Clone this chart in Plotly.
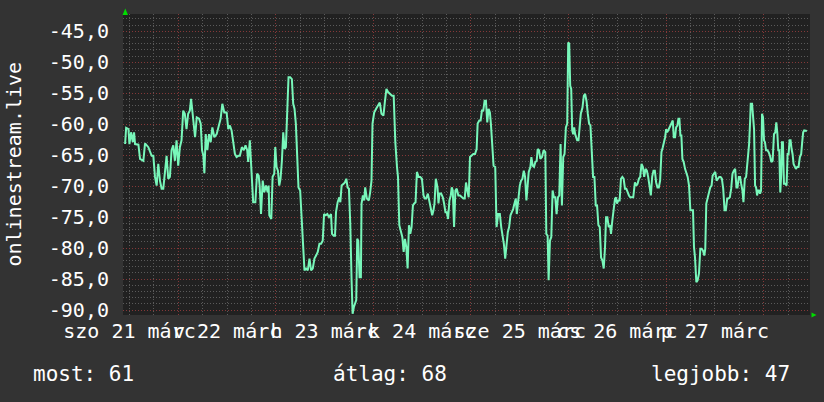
import plotly.graph_objects as go

# ---------------- data (hours since Sat 21 Mar 00:00, signal level) ----------------
hours = [
    -1.08, -0.83, -0.26, -0.02, 0.39, 0.80, 1.12, 1.37, 2.19, 2.59,
    3.41, 3.82, 4.63, 5.45, 5.86, 6.27, 6.68, 7.08, 7.49, 7.90,
    8.31, 8.72, 9.12, 9.53, 9.94, 10.35, 10.76, 11.17, 11.57, 11.98,
    12.39, 12.80, 13.21, 13.61, 14.02, 14.43, 14.84, 15.15, 15.56, 16.13,
    16.54, 17.11, 17.52, 17.85, 18.17, 18.42, 18.75, 19.15, 19.56, 19.97,
    20.38, 20.87, 21.44, 22.01, 22.42, 22.83, 23.32, 23.89, 24.30, 24.70,
    25.11, 25.52, 25.93, 26.34, 26.75, 27.15, 27.64, 28.13, 28.54, 28.95,
    29.19, 29.60, 30.01, 30.42,
    30.96, 31.37, 31.78, 32.02, 32.35, 32.76, 33.16, 33.57, 33.98, 34.23,
    34.39, 34.88, 35.20, 35.61, 35.86, 36.18, 36.51, 36.84, 37.16, 37.49,
    37.82, 38.14, 38.47, 38.80, 39.12, 39.53, 39.94, 40.27, 40.59, 40.92,
    41.25, 41.57, 41.98, 42.39, 42.72, 43.04, 43.45, 43.86, 44.27, 44.67,
    45.08, 45.49, 45.90, 46.31, 46.72, 47.12, 47.53, 47.86, 48.27, 48.67,
    49.08, 49.57, 49.82, 50.23, 50.55, 50.80, 51.20, 51.61, 51.86, 52.18,
    52.67, 53.00, 53.33, 53.65, 53.98, 54.31, 54.63, 54.88, 55.20, 55.45,
    55.78, 56.02, 56.27, 56.59, 56.92, 57.08, 57.41, 57.74, 57.98, 58.39,
    58.88, 59.20, 59.53, 59.78, 60.19, 60.67, 61.16, 61.57, 61.98, 62.47,
    62.80, 63.20, 63.61,
    64.17, 64.58, 64.99, 65.39, 65.80, 66.05, 66.37, 66.78, 67.11, 67.44,
    67.76, 68.09, 68.41, 68.74, 69.07, 69.39, 69.72, 70.05, 70.37, 70.70,
    71.11, 71.52, 71.93, 72.33, 72.66, 72.99, 73.39, 73.72, 74.13, 74.46,
    74.78, 75.03, 75.35, 75.76, 76.01, 76.25, 76.66, 77.07, 77.39, 77.72,
    78.05, 78.37, 78.70, 79.03, 79.27, 79.52, 79.84, 80.17, 80.50, 80.90,
    81.31, 81.72, 82.13, 82.46, 82.78, 83.11, 83.44, 83.76, 84.17, 84.58,
    84.99, 85.39, 85.64, 86.05, 86.37, 86.70, 87.03, 87.35, 87.68, 88.01,
    88.33, 88.66, 88.90, 89.23, 89.56, 89.97, 90.29, 90.70, 91.11, 91.44,
    91.76, 92.09, 92.42, 92.74, 93.07, 93.39, 93.72, 94.05, 94.37, 94.70,
    95.03, 95.27, 95.60, 96.01, 96.33, 96.66, 96.99, 97.31, 97.64,
    98.21, 98.61, 98.86, 99.19, 99.51, 99.84, 100.17, 100.41, 100.74, 101.06,
    101.47, 101.88, 102.29, 102.53, 102.86, 103.10, 103.43, 103.76, 104.08, 104.41,
    104.74, 105.06, 105.39, 105.72, 106.04, 106.37, 106.70, 107.02, 107.35, 107.68,
    107.92, 108.17, 108.41, 108.66, 108.90, 109.15, 109.39, 109.63, 109.88, 110.12,
    110.45, 110.70, 111.02, 111.43, 111.76, 112.08, 112.41, 112.74, 113.06, 113.39,
    113.72, 114.04, 114.37, 114.70, 115.02, 115.35, 115.68, 116.00, 116.33, 116.66,
    116.98, 117.23, 117.55, 117.88, 118.21, 118.45, 118.78, 119.10, 119.43, 119.68,
    119.92, 120.25, 120.57, 120.90, 121.23, 121.55, 121.88, 122.21, 122.53, 122.86,
    123.19, 123.51, 123.92, 124.33, 124.66, 124.98, 125.31, 125.63, 125.96, 126.29,
    126.61, 126.94, 127.27, 127.59, 127.92, 128.25, 128.57, 128.90, 129.23, 129.55,
    129.88, 130.21, 130.53, 130.86, 131.19,
    131.76, 132.01, 132.25, 132.50, 132.82, 133.07, 133.40, 133.64, 133.89, 134.21,
    134.46, 134.78, 135.03, 135.27, 135.52, 135.76, 136.01, 136.33, 136.66, 136.99,
    137.31, 137.64, 137.97, 138.29, 138.62, 138.86, 139.11, 139.44, 139.76, 140.09,
    140.42, 140.74, 141.07, 141.40, 141.64, 141.89, 142.21, 142.54, 142.86, 143.19,
    143.44, 143.76, 144.09, 144.42, 144.74, 145.07, 145.40, 145.72, 146.05, 146.38,
    146.70, 147.03, 147.35, 147.68, 148.01, 148.33, 148.66, 148.99, 149.31, 149.56,
    149.89, 150.21, 150.46, 150.78, 151.03, 151.36, 151.68, 151.93, 152.17, 152.42,
    152.66, 152.82, 153.15, 153.40, 153.64, 153.89, 154.13, 154.38, 154.62, 154.87,
    155.11, 155.36, 155.60, 155.84, 156.09, 156.33, 156.58, 156.91, 157.23, 157.56,
    157.89, 158.21, 158.54, 158.86, 159.11, 159.35, 159.60, 159.84, 160.09, 160.33,
    160.50, 160.74, 160.99, 161.31, 161.64, 161.89, 162.13, 162.38, 162.62, 162.87,
    163.11, 163.36, 163.60, 163.93, 164.25, 164.58, 164.91, 165.23, 165.48, 165.72,
    165.97, 166.29, 166.62,
]

signal = [
    -63.2, -60.6, -60.8, -63.2, -61.3, -62.9, -61.3, -63.2, -63.3, -65.6,
    -65.9, -63.1, -63.7, -65.1, -65.1, -68.5, -69.9, -66.4, -69.1, -70.4,
    -70.4, -67.5, -65.1, -68.8, -68.5, -64.2, -63.4, -65.9, -62.6, -66.7,
    -63.7, -62.6, -57.8, -58.3, -60.8, -58.3, -57.8, -55.9, -58.3, -62.1,
    -58.9, -59.1, -59.9, -64.2, -65.1, -67.9, -61.6, -64.2, -61.6, -62.9,
    -60.5, -62.1, -61.6, -59.9, -59.1, -56.7, -58.1, -58.1, -60.8, -60.2,
    -61.0, -62.9, -64.8, -65.3, -65.1, -65.1, -63.7, -64.2, -63.4, -64.2,
    -66.1, -62.6, -66.7, -72.6,
    -72.6, -68.0, -68.3, -69.9, -74.5, -69.1, -71.0, -69.9, -71.0, -69.9,
    -74.7, -75.3, -68.5, -68.0, -63.7, -66.9, -67.5, -69.9, -68.8, -65.9,
    -61.3, -64.0, -63.7, -58.6, -52.4, -52.4, -52.7, -56.7, -57.5, -59.9,
    -65.9, -70.2, -70.7, -75.5, -80.4, -83.6, -83.3, -83.6, -81.7, -83.6,
    -83.3, -81.7, -81.2, -80.6, -79.3, -79.3, -78.8, -74.5, -74.7, -74.5,
    -75.0, -74.5, -77.7, -78.0, -78.0, -74.2, -72.6, -71.8, -72.6, -69.9,
    -69.6, -69.4, -68.8, -70.2, -70.4, -76.1, -85.2, -90.6, -89.5, -89.0,
    -88.4, -78.5, -78.8, -84.7, -84.7, -72.8, -71.5, -72.3, -70.2, -72.0,
    -72.3, -71.0, -69.1, -59.9, -58.1, -57.5, -57.0, -56.5, -58.3, -58.6,
    -56.5, -54.3, -54.8,
    -55.1, -55.4, -55.4, -62.9, -66.9, -68.5, -76.3, -77.7, -78.2, -80.6,
    -78.5, -79.8, -83.3, -76.3, -77.7, -76.6, -73.1, -72.8, -72.6, -67.7,
    -68.5, -68.5, -68.8, -71.5, -72.0, -72.0, -71.2, -72.3, -73.9, -74.7,
    -73.9, -72.8, -68.8, -70.2, -72.8, -71.2, -71.2, -71.8, -72.8, -74.2,
    -74.2, -75.3, -72.3, -71.5, -70.2, -70.7, -76.6, -70.7, -70.4, -71.5,
    -71.5, -71.8, -72.0, -72.0, -69.4, -70.7, -71.8, -65.3, -65.1, -64.8,
    -64.8, -64.0, -59.9, -59.4, -59.4, -57.8, -57.8, -56.2, -56.2, -59.7,
    -57.5, -58.1, -59.9, -64.0, -66.7, -66.9, -76.6, -74.5, -74.5, -76.6,
    -78.0, -79.3, -81.7, -79.5, -77.4, -76.6, -74.7, -74.2, -73.7, -72.8,
    -72.0, -74.5, -71.8, -69.9, -69.1, -68.8, -67.5, -68.5, -72.3,
    -67.7, -66.9, -65.3, -66.7, -66.9, -66.1, -65.9, -64.0, -64.2, -65.6,
    -65.3, -64.2, -64.5, -77.7, -78.0, -85.2, -78.8, -78.2, -70.7, -71.8,
    -71.8, -74.5, -71.8, -71.5, -63.2, -73.1, -65.3, -64.8, -60.5, -59.9,
    -46.8, -47.0, -53.8, -54.3, -61.0, -61.6, -60.5, -61.6, -62.1, -62.6,
    -62.6, -60.5, -58.3, -57.3, -55.4, -55.1, -56.2, -58.3, -59.9, -60.2,
    -64.0, -68.5, -68.5, -73.1, -73.1, -76.3, -76.6, -81.5, -82.0, -83.3,
    -79.8, -75.0, -75.0, -76.6, -76.3, -77.7, -75.5, -73.9, -72.0, -71.8,
    -72.8, -72.3, -72.3, -68.8, -68.5, -68.8, -70.4, -70.4, -71.0, -71.5,
    -71.8, -71.8, -71.8, -69.4, -69.9, -69.6, -68.8, -68.5, -66.4, -66.9,
    -68.5, -67.2, -67.5, -68.5, -69.9, -71.5, -68.5, -67.5, -67.5, -69.4,
    -70.2, -70.2, -69.1, -64.5, -63.7,
    -62.1, -60.8, -61.3, -61.0, -60.5, -60.2, -59.7, -59.4, -62.1, -62.1,
    -60.5, -60.2, -59.1, -59.1, -61.8, -61.8, -65.6, -66.1, -67.2, -68.0,
    -68.5, -69.9, -73.9, -73.9, -73.9, -79.8, -81.5, -85.5, -85.2, -84.1,
    -80.1, -80.1, -80.4, -81.2, -80.1, -72.8, -72.0, -71.2, -70.2, -69.9,
    -68.3, -68.0, -67.7, -69.1, -68.8, -68.5, -68.5, -68.8, -70.4, -73.9,
    -73.9, -72.0, -72.0, -71.8, -70.4, -68.0, -67.5, -67.2, -70.2, -70.2,
    -68.5, -68.5, -69.6, -70.7, -72.6, -68.8, -68.5, -66.7, -65.3, -63.2,
    -59.7, -56.7, -56.7, -59.9, -60.8, -69.9, -70.2, -71.5, -70.7, -70.7,
    -71.2, -70.7, -58.3, -58.9, -62.6, -62.9, -64.2, -64.2, -64.5, -65.1,
    -66.1, -65.9, -61.6, -61.3, -59.7, -61.3, -64.2, -64.2, -71.0, -68.0,
    -62.9, -62.9, -69.6, -69.6, -69.9, -64.8, -64.8, -62.6, -62.6, -64.0,
    -64.8, -66.4, -66.9, -67.2, -66.9, -66.9, -65.3, -64.8, -62.9, -61.3,
    -61.0, -61.0, -61.1,
]

assert len(hours) == len(signal), (len(hours), len(signal))

day_label_hours = [0, 24, 48, 72, 96, 120, 144]
day_labels = ["szo 21 márc", "v 22 márc", "h 23 márc", "k 24 márc",
              "sze 25 márc", "cs 26 márc", "p 27 márc"]
major_grid_hours = [12, 36, 60, 84, 108, 132, 156]

y_tick_vals = [-90, -85, -80, -75, -70, -65, -60, -55, -50, -45]
y_tick_text = ["-90,0", "-85,0", "-80,0", "-75,0", "-70,0", "-65,0",
               "-60,0", "-55,0", "-50,0", "-45,0"]

y_title = "onlinestream.live"
legend_items = ["most: 61", "átlag: 68", "legjobb: 47"]

# ---------------- styling ----------------
FONT = "DejaVu Sans Mono"
BG = "#333333"
PLOT_BG = "#212121"
LINE = "#78f7ba"
MINOR_GRID = "#5a5a5a"
MAJOR_GRID = "#843838"
DOT = "1px,2px"
X_RANGE = [-1.6, 167.4]
Y_RANGE = [-90.8, -42.2]

fig = go.Figure()
fig.add_trace(go.Scatter(
    x=hours, y=signal, mode="lines",
    line=dict(color=LINE, width=2),
    hoverinfo="skip", showlegend=False,
))
# carrier trace for the day-label axis
fig.add_trace(go.Scatter(
    x=day_label_hours, y=[None] * len(day_label_hours), xaxis="x2",
    mode="lines", hoverinfo="skip", showlegend=False,
))

fig.update_layout(
    width=824, height=402,
    margin=dict(l=123, r=14, t=14, b=87, pad=0),
    paper_bgcolor=BG, plot_bgcolor=PLOT_BG,
    font=dict(family=FONT, size=20, color="#ffffff"),
    showlegend=False,
    xaxis=dict(
        range=X_RANGE, tickmode="array", tickvals=major_grid_hours,
        showticklabels=False, ticks="",
        showgrid=True, gridcolor=MAJOR_GRID, griddash=DOT, gridwidth=1,
        zeroline=False, showline=False,
        minor=dict(tick0=0, dtick=6, showgrid=True, gridcolor=MINOR_GRID,
                   griddash=DOT, gridwidth=1, ticks=""),
    ),
    xaxis2=dict(
        range=X_RANGE, overlaying="x", side="bottom", anchor="y",
        tickmode="array", tickvals=day_label_hours, ticktext=day_labels,
        tickangle=0, ticks="", showgrid=False, zeroline=False, showline=False,
        tickfont=dict(family=FONT, size=20, color="#ffffff"),
        ticklabelstandoff=2,
    ),
    yaxis=dict(
        range=Y_RANGE, tickmode="array", tickvals=y_tick_vals, ticktext=y_tick_text,
        ticks="", showgrid=True, gridcolor=MAJOR_GRID, griddash=DOT, gridwidth=1,
        zeroline=False, showline=False,
        tickfont=dict(family=FONT, size=20, color="#ffffff"),
        ticklabelstandoff=13,
        minor=dict(tick0=0, dtick=1, showgrid=True, gridcolor=MINOR_GRID,
                   griddash=DOT, gridwidth=1, ticks=""),
    ),
)

fig.add_annotation(
    text=y_title, textangle=-90, xref="paper", yref="paper",
    x=-0.160, y=0.5, xanchor="center", yanchor="middle", showarrow=False,
    font=dict(family=FONT, size=20, color="#ffffff"),
)

legend_pos = [(-0.1341, "left"), (0.3892, "center"), (0.9738, "right")]
for text, (lx, anchor) in zip(legend_items, legend_pos):
    fig.add_annotation(
        text=text, xref="paper", yref="paper", x=lx, y=-0.196,
        xanchor=anchor, yanchor="middle", showarrow=False,
        font=dict(family=FONT, size=21, color="#ffffff"),
    )

# small green axis arrows
fig.add_shape(type="path", xref="paper", yref="paper",
              xsizemode="pixel", ysizemode="pixel", xanchor=0, yanchor=1,
              path="M -0.5,-1 L 5,-1 L 2.3,5.5 Z",
              fillcolor="#00dd00", line=dict(width=0), layer="above")
fig.add_shape(type="path", xref="paper", yref="paper",
              xsizemode="pixel", ysizemode="pixel", xanchor=1, yanchor=0,
              path="M 1.5,2.5 L 1.5,-2.5 L 6.5,0 Z",
              fillcolor="#00dd00", line=dict(width=0), layer="above")

fig.write_html(
    "out.html",
    config={"displayModeBar": False, "staticPlot": True},
    post_script="document.body.style.margin='0';document.body.style.padding='0';"
                "document.body.style.background='#333333';",
)
